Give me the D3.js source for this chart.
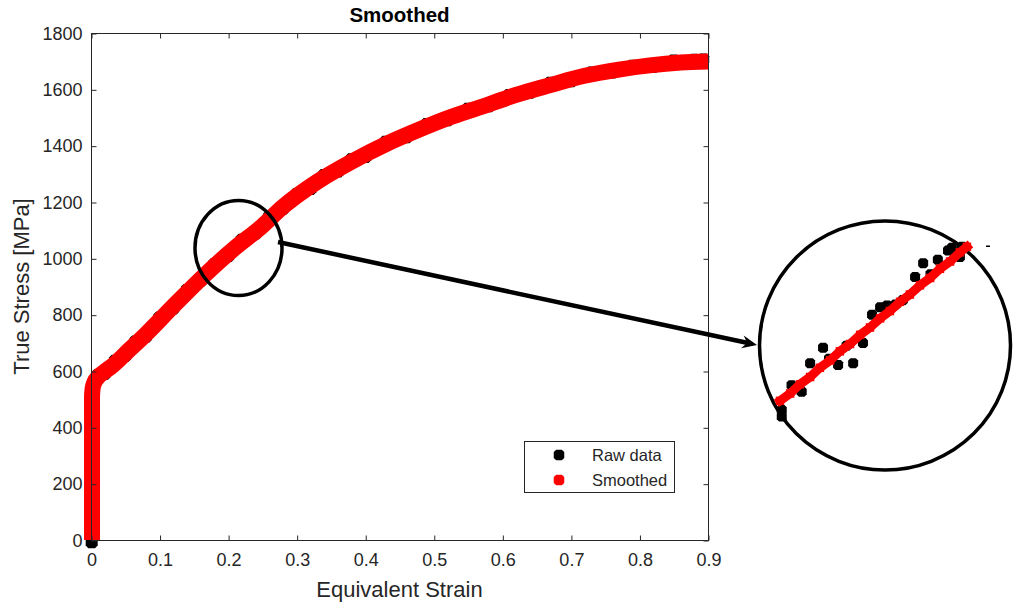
<!DOCTYPE html>
<html><head><meta charset="utf-8">
<script src="https://cdn.jsdelivr.net/npm/d3@7/dist/d3.min.js"></script>
<style>
html,body{margin:0;padding:0;background:#fff;}
svg{display:block;font-family:"Liberation Sans",Arial,Helvetica,sans-serif;}
</style></head>
<body>
<svg id="chart" width="1015" height="605"></svg>
<script>
// ---------------- data ----------------
const title = "Smoothed";
const xLabel = "Equivalent Strain";
const yLabel = "True Stress [MPa]";
const xTicks = [0, 0.1, 0.2, 0.3, 0.4, 0.5, 0.6, 0.7, 0.8, 0.9];
const yTicks = [0, 200, 400, 600, 800, 1000, 1200, 1400, 1600, 1800];
const seriesNames = ["Raw data", "Smoothed"];

const smoothStrain = [0.0015, 0.0015, 0.0015, 0.0015, 0.0015, 0.0025, 0.005, 0.01, 0.02, 0.032, 0.052, 0.079, 0.12, 0.166, 0.21, 0.25, 0.28, 0.33, 0.38, 0.43, 0.475, 0.52, 0.57, 0.62, 0.67, 0.72, 0.77, 0.815, 0.86, 0.90];
const smoothStress = [0, 150, 300, 450, 510, 540, 560, 578, 598, 620, 666, 728, 830, 941, 1037, 1115, 1183, 1272, 1343, 1405, 1453, 1497, 1538, 1580, 1615, 1648, 1670, 1685, 1695, 1699];

const rawStrain = [0.001, 0.001, 0.0005, 0.001, 0.0005, 0.001, 0.002, 0.004, 0.01, 0.02, 0.035, 0.05, 0.065, 0.08, 0.10, 0.12, 0.14, 0.16, 0.18, 0.20, 0.22, 0.24, 0.26, 0.28, 0.30, 0.32, 0.34, 0.36, 0.38, 0.40, 0.43, 0.46, 0.49, 0.52, 0.55, 0.58, 0.61, 0.64, 0.67, 0.70, 0.73, 0.76, 0.79, 0.82, 0.85, 0.88, 0.893];
const rawStress = [-8, 120, 260, 400, 470, 520, 530, 558, 586, 590, 636, 654, 705, 722, 790, 822, 888, 920, 980, 1008, 1066, 1088, 1148, 1176, 1228, 1246, 1296, 1308, 1352, 1360, 1414, 1430, 1477, 1490, 1531, 1540, 1580, 1588, 1623, 1629, 1660, 1660, 1684, 1680, 1702, 1705, 1706];

// zoomed inset (magnified view of the circled region)
const insetSmoothStrain = [0.2000, 0.2029, 0.2057, 0.2086, 0.2114, 0.2143, 0.2171, 0.2200, 0.2229, 0.2257, 0.2286, 0.2314, 0.2343, 0.2371, 0.2400, 0.2429, 0.2457, 0.2486, 0.2514, 0.2534];
const insetSmoothStress = [990, 998, 1008, 1016, 1026, 1034, 1044, 1052, 1062, 1070, 1080, 1088, 1098, 1106, 1116, 1124, 1134, 1142, 1152, 1158];
const insetRawStrain = [0.2005, 0.2005, 0.2033, 0.2062, 0.2086, 0.2123, 0.2140, 0.2166, 0.2190, 0.2209, 0.2237, 0.2263, 0.2286, 0.2306, 0.2330, 0.2351, 0.2386, 0.2409, 0.2430, 0.2451, 0.2480, 0.2491, 0.2514, 0.2520];
const insetRawStress = [980, 973, 1007, 1000, 1031, 1048, 1036, 1029, 1050, 1031, 1053, 1084, 1092, 1094, 1095, 1100, 1125, 1140, 1128, 1144, 1154, 1157, 1147, 1158];

// ---------------- layout ----------------
const svg = d3.select("#chart");
const L = 91, R = 708, T = 33, B = 540;
const x = d3.scaleLinear().domain([0, 0.9]).range([L, R]);
const y = d3.scaleLinear().domain([0, 1800]).range([B, T]);
const axisColor = "#262626";

// inset scales
const ix = d3.scaleLinear().domain([0.20, 0.26]).range([780, 990]);
const iy = d3.scaleLinear().domain([980, 1160]).range([410, 245]);

// octagon-ish blob marker
const blob = {
  draw(ctx, size) {
    const r = Math.sqrt(size) / 2, c = r * 0.45;
    ctx.moveTo(-r + c, -r); ctx.lineTo(r - c, -r); ctx.lineTo(r, -r + c);
    ctx.lineTo(r, r - c); ctx.lineTo(r - c, r); ctx.lineTo(-r + c, r);
    ctx.lineTo(-r, r - c); ctx.lineTo(-r, -r + c); ctx.closePath();
  }
};

// ---------------- plot ----------------
const plot = svg.append("g");
const raw = rawStrain.map((s, i) => [s, rawStress[i]]);
const smooth = smoothStrain.map((s, i) => [s, smoothStress[i]]);

plot.selectAll("path.raw").data(raw).enter().append("path")
  .attr("class", "raw")
  .attr("transform", d => `translate(${x(d[0])},${y(d[1])})`)
  .attr("d", d3.symbol().type(blob).size(144))
  .attr("fill", "#000");

plot.append("path").datum(smooth)
  .attr("d", d3.line().curve(d3.curveMonotoneX).x(d => x(d[0])).y(d => y(d[1])))
  .attr("fill", "none").attr("stroke", "#ff0000").attr("stroke-width", 16)
  .attr("stroke-linejoin", "round").attr("stroke-linecap", "butt");

// ---------------- axes box ----------------
const ax = svg.append("g");
ax.append("rect").attr("x", L + 0.5).attr("y", T + 0.5).attr("width", R - L).attr("height", B - T)
  .attr("fill", "none").attr("stroke", axisColor).attr("stroke-width", 1);

const xb = ax.append("g").attr("transform", `translate(0.5,${B + 0.5})`)
  .call(d3.axisBottom(x).tickValues(xTicks).tickSizeInner(-5).tickSizeOuter(0).tickPadding(13).tickFormat(d => d === 0 ? "0" : d3.format(".1f")(d)));
const xt = ax.append("g").attr("transform", `translate(0.5,${T + 0.5})`)
  .call(d3.axisTop(x).tickValues(xTicks).tickSizeInner(-5).tickSizeOuter(0).tickFormat(""));
const yl = ax.append("g").attr("transform", `translate(${L + 0.5},0.5)`)
  .call(d3.axisLeft(y).tickValues(yTicks).tickSizeInner(-5).tickSizeOuter(0).tickPadding(9).tickFormat(d3.format("d")));
const yr = ax.append("g").attr("transform", `translate(${R + 0.5},0.5)`)
  .call(d3.axisRight(y).tickValues(yTicks).tickSizeInner(-5).tickSizeOuter(0).tickFormat(""));
[xb, xt, yl, yr].forEach(g => {
  g.select(".domain").remove();
  g.selectAll("line").attr("stroke", axisColor);
  g.selectAll("text").attr("fill", "#262626").style("font-size", "18px")
    .style("font-family", "'Liberation Sans',Arial,sans-serif");
});

// title and labels
svg.append("text").attr("x", (L + R) / 2).attr("y", 22).attr("text-anchor", "middle")
  .style("font-size", "20.5px").style("font-weight", "bold").attr("fill", "#000").text(title);
svg.append("text").attr("x", (L + R) / 2).attr("y", 597).attr("text-anchor", "middle")
  .style("font-size", "22px").attr("fill", "#262626").text(xLabel);
svg.append("text").attr("transform", `translate(29,${(T + B) / 2}) rotate(-90)`).attr("text-anchor", "middle")
  .style("font-size", "22px").attr("fill", "#262626").text(yLabel);

// ---------------- legend ----------------
const lg = svg.append("g");
lg.append("rect").attr("x", 524.5).attr("y", 441.5).attr("width", 150).attr("height", 51)
  .attr("fill", "#fff").attr("stroke", axisColor).attr("stroke-width", 1);
const legendColors = ["#000", "#ff0000"];
seriesNames.forEach((n, i) => {
  const yy = 455 + i * 25;
  lg.append("path").attr("transform", `translate(559,${yy})`)
    .attr("d", d3.symbol().type(blob).size(110)).attr("fill", legendColors[i]);
  lg.append("text").attr("x", 592).attr("y", yy + 6).style("font-size", "16.5px")
    .attr("fill", "#262626").text(n);
});

// ---------------- annotations ----------------
svg.append("ellipse").attr("cx", 238.5).attr("cy", 248).attr("rx", 43.5).attr("ry", 47.5)
  .attr("fill", "none").attr("stroke", "#000").attr("stroke-width", 3.5);

// arrow
const x0 = 278, y0 = 242, x1 = 757, y1 = 345;
const dx = x1 - x0, dy = y1 - y0, len = Math.hypot(dx, dy), ux = dx / len, uy = dy / len;
const hl = 15, hw = 6.5;
svg.append("line").attr("x1", x0).attr("y1", y0).attr("x2", x1 - ux * 8).attr("y2", y1 - uy * 8)
  .attr("stroke", "#000").attr("stroke-width", 4.5);
const bx = x1 - ux * hl, by = y1 - uy * hl;
const nx = x1 - ux * (hl - 5), ny = y1 - uy * (hl - 5);
svg.append("path").attr("d",
  `M${x1},${y1} L${bx - uy * hw},${by + ux * hw} L${nx},${ny} L${bx + uy * hw},${by - ux * hw} Z`)
  .attr("fill", "#000");

// big circle with inset
svg.append("ellipse").attr("cx", 885).attr("cy", 345.5).attr("rx", 125.5).attr("ry", 124.5)
  .attr("fill", "none").attr("stroke", "#000").attr("stroke-width", 3.5);

const inset = svg.append("g");
const iraw = insetRawStrain.map((s, i) => [s, insetRawStress[i]]);
const ism = insetSmoothStrain.map((s, i) => [s, insetSmoothStress[i]]);
inset.selectAll("path.iraw").data(iraw).enter().append("path")
  .attr("transform", d => `translate(${ix(d[0])},${iy(d[1])})`)
  .attr("d", d3.symbol().type(blob).size(100)).attr("fill", "#000");
inset.append("path").datum(ism)
  .attr("d", d3.line().x(d => ix(d[0])).y(d => iy(d[1])))
  .attr("fill", "none").attr("stroke", "#ff0000").attr("stroke-width", 9).attr("stroke-linecap", "square");
inset.selectAll("path.ism").data(ism).enter().append("path")
  .attr("transform", d => `translate(${ix(d[0])},${iy(d[1])})`)
  .attr("d", d3.symbol().type(d3.symbolSquare).size(72)).attr("fill", "#ff0000");
svg.append("rect").attr("x", 986).attr("y", 245.5).attr("width", 4).attr("height", 1.5).attr("fill", "#000");
</script>
</body></html>
